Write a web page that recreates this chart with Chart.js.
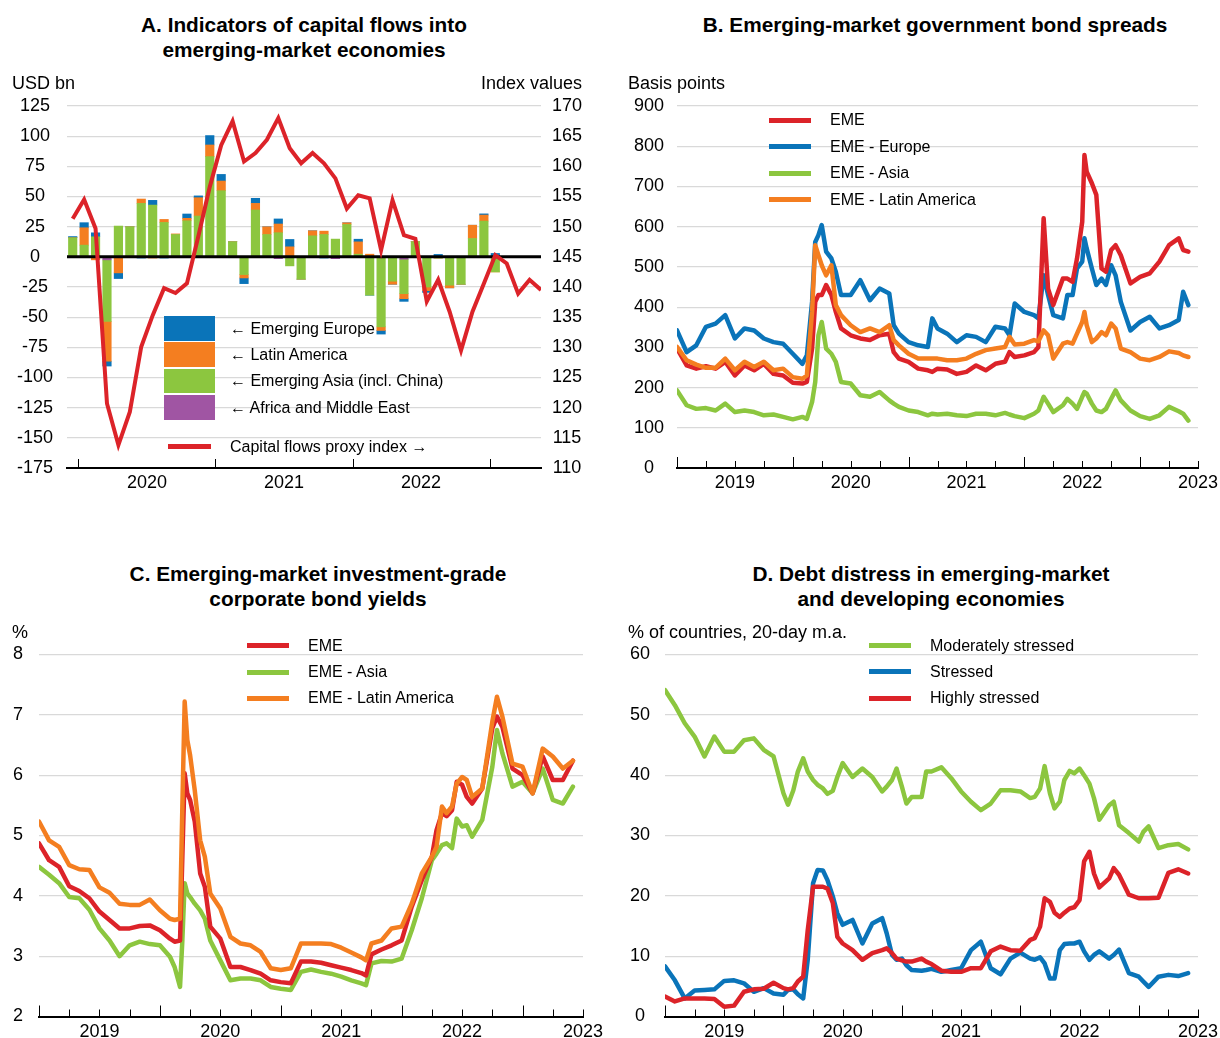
<!DOCTYPE html>
<html>
<head>
<meta charset="utf-8">
<script src="https://cdn.jsdelivr.net/npm/chart.js@4.4.1/dist/chart.umd.min.js"></script>
<style>
  body { margin: 0; background: #fff; }
  #page { position: relative; width: 1220px; height: 1038px; overflow: hidden; font-family: "Liberation Sans", Arial, sans-serif; color: #000; }
  canvas { position: absolute; }
  .title { position: absolute; font-weight: bold; font-size: 20.8px; line-height: 25px; text-align: center; }
  .unit { position: absolute; font-size: 18px; line-height: 20px; white-space: nowrap; }
  .leg { position: absolute; font-size: 16px; line-height: 20px; white-space: nowrap; }
  .swatch { position: absolute; }
</style>
</head>
<body>
<div id="page">
  <canvas id="chartA" width="600" height="408" style="left:0;top:90px"></canvas>
  <canvas id="chartB" width="610" height="408" style="left:610px;top:90px"></canvas>
  <canvas id="chartC" width="610" height="400" style="left:0;top:638px"></canvas>
  <canvas id="chartD" width="610" height="400" style="left:610px;top:638px"></canvas>

  <div class="title" style="left:4px;width:600px;top:12px">A. Indicators of capital flows into<br>emerging-market economies</div>
  <div class="title" style="left:635px;width:600px;top:12px">B. Emerging-market government bond spreads</div>
  <div class="title" style="left:18px;width:600px;top:561px">C. Emerging-market investment-grade<br>corporate bond yields</div>
  <div class="title" style="left:631px;width:600px;top:561px">D. Debt distress in emerging-market<br>and developing economies</div>

  <div class="unit" style="left:12px;top:73px">USD bn</div>
  <div class="unit" style="left:382px;width:200px;text-align:right;top:73px">Index values</div>
  <div class="unit" style="left:628px;top:73px">Basis points</div>
  <div class="unit" style="left:12px;top:622px">%</div>
  <div class="unit" style="left:628px;top:622px">% of countries, 20-day m.a.</div>

  <div id="legendA"></div>
  <div id="legendB"></div>
  <div id="legendC"></div>
  <div id="legendD"></div>
</div>

<script>
// Panel A: monthly capital flows (USD bn) and proxy index
const months = [
  '2019-12',
  '2020-01','2020-02','2020-03','2020-04','2020-05','2020-06','2020-07','2020-08','2020-09','2020-10','2020-11','2020-12',
  '2021-01','2021-02','2021-03','2021-04','2021-05','2021-06','2021-07','2021-08','2021-09','2021-10','2021-11','2021-12',
  '2022-01','2022-02','2022-03','2022-04','2022-05','2022-06','2022-07','2022-08','2022-09','2022-10','2022-11','2022-12',
  '2023-01','2023-02','2023-03','2023-04','2023-05'
];
const emergingEurope = [1, 4.2, 3.3, -4, -4.7, 0, -1, 3.9, -1, 0, 3.6, 1.5, 7.8, 5.5, 0, -4.7, 4.2, 0, 4.2, 6.1, 0, 0, -1, 0, 0, 2.2, 0, -3, 0, -2.2, 0, -1.5, 2, 0, 0, 0, 1, 2.8];
const latinAmerica = [0, 14.4, -2.5, -33, -13.3, 0, 3.6, -1, 2.5, 0.5, 2, 15.2, 9.7, 8, 0, -2.8, 5.5, 6.4, 7.2, 8.3, 0, 4.2, 2.8, 0, 1.4, 10.2, 2.2, -3, -2.5, -4.2, 0, -3, 0, -2.2, 0, 11, 5, 0];
const emergingAsia = [15.8, 9.7, 16.6, -51, 25.5, 24.9, 44.3, 42.9, 28.5, 18.5, 29.9, 33.8, 83, 54.8, 12.5, -14.7, 38.8, 18.5, 20, -7.5, -18.5, 17.4, 18.5, 14.7, 26.8, 2.2, -31.8, -58, -20.2, -28.5, 12.5, -25, -1, -23.5, -22.7, 15.2, 29.6, -12.5];
const africaMiddleEast = [0, 0, 0, -2.5, 0, 0, 0, 0, 0, -0.5, 0, 0, 0, -0.5, 0, 0, 0, 0, -1.5, 0, 0, 0, 0, -1.5, 0, 0, 0, 0, 0, -2, 0, 0, 0, 0, 0, 0, 0, 0];
const proxyIndex = [151.3, 154.5, 149.7, 120.7, 113.8, 119.3, 130.1, 135.3, 139.8, 139.0, 140.6, 148.4, 156.6, 163.5, 167.5, 160.8, 162.2, 164.4, 168.0, 163.0, 160.5, 162.2, 160.5, 158.0, 153.0, 155.2, 154.7, 146.1, 154.4, 148.6, 148.0, 137.6, 141.2, 135.9, 129.5, 135.9, 140.6, 145.3, 143.9, 138.9, 141.2, 139.5];
const flowYears = ['2020', '2021', '2022'];

// Panel B: government bond spreads (bp)
const spreadDates = [
  '2019-01-01','2019-02-01','2019-03-01','2019-04-01','2019-05-01','2019-06-01','2019-07-01','2019-08-01','2019-09-01','2019-10-01','2019-11-01','2019-12-01',
  '2020-01-01','2020-02-01','2020-02-15','2020-03-01','2020-03-11','2020-03-21','2020-04-01','2020-04-15','2020-05-01','2020-05-15',
  '2020-06-01','2020-07-01','2020-08-01','2020-09-01','2020-10-01','2020-11-01','2020-11-15','2020-12-01',
  '2021-01-01','2021-02-01','2021-03-01','2021-03-15','2021-04-01','2021-05-01','2021-06-01','2021-07-01','2021-08-01','2021-09-01','2021-10-01','2021-11-01','2021-11-15','2021-12-01',
  '2022-01-01','2022-02-01','2022-02-15','2022-03-01','2022-03-15','2022-04-01','2022-05-01','2022-05-15','2022-06-01','2022-06-15','2022-07-01','2022-07-08','2022-07-15','2022-08-01','2022-08-15','2022-09-01','2022-09-15','2022-10-01','2022-10-15','2022-11-01','2022-12-01',
  '2023-01-01','2023-02-01','2023-03-01','2023-04-01','2023-05-01','2023-05-15','2023-06-01'
];
const spreadEME = [297, 255, 247, 253, 247, 264, 230, 255, 243, 259, 234, 230,
  212, 210, 214, 297, 413, 430, 430, 455, 430, 388,
  347, 330, 322, 318, 330, 334, 288, 272,
  264, 247, 243, 239, 247, 245, 234, 239, 255, 243, 259, 264, 288, 276,
  280, 288, 301, 621, 446, 405, 471, 471, 463, 521, 612, 778, 737, 708, 679, 496, 488, 542, 554, 529, 459,
  475, 484, 513, 554, 571, 542, 538];
const spreadEurope = [342, 288, 305, 351, 359, 380, 322, 347, 342, 322, 313, 309,
  284, 259, 280, 413, 562, 579, 604, 538, 521, 488,
  430, 430, 467, 417, 446, 434, 355, 334,
  313, 305, 301, 372, 347, 334, 313, 330, 326, 313, 351, 347, 330, 409,
  388, 380, 372, 479, 430, 380, 372, 430, 430, 496, 513, 571, 546, 496, 455, 471, 455, 504, 479, 413, 342,
  363, 376, 347, 355, 368, 438, 405];
const spreadAsia = [193, 156, 147, 149, 143, 160, 139, 143, 139, 131, 133, 127,
  121, 127, 122, 164, 214, 330, 363, 297, 284, 264,
  214, 210, 181, 177, 189, 168, 160, 152,
  143, 139, 131, 135, 133, 135, 131, 129, 135, 135, 131, 137, 133, 129,
  124, 135, 143, 177, 160, 139, 156, 172, 160, 147, 177, 189, 185, 160, 143, 139, 147, 172, 193, 168, 143,
  129, 122, 131, 152, 141, 135, 118];
const spreadLatAm = [301, 268, 257, 249, 249, 272, 243, 264, 251, 264, 243, 247,
  226, 222, 230, 388, 554, 529, 504, 479, 504, 405,
  380, 355, 338, 347, 338, 355, 318, 305,
  284, 272, 272, 272, 272, 268, 268, 272, 284, 293, 297, 301, 326, 307,
  309, 318, 315, 342, 330, 272, 309, 313, 309, 334, 363, 388, 355, 313, 322, 338, 330, 359, 347, 297, 288,
  272, 268, 276, 290, 286, 280, 276];
const spreadYears = ['2019', '2020', '2021', '2022', '2023'];

// Panel C: investment-grade corporate bond yields (%)
const yieldDates = [
  '2019-01-01','2019-02-01','2019-03-01','2019-04-01','2019-05-01','2019-06-01','2019-07-01','2019-08-01','2019-09-01','2019-10-01','2019-11-01','2019-12-01',
  '2020-01-01','2020-02-01',
  '2020-02-15','2020-03-01','2020-03-08','2020-03-15','2020-03-23','2020-04-01','2020-04-15','2020-05-01','2020-05-15',
  '2020-06-01','2020-07-01','2020-08-01','2020-09-01','2020-10-01','2020-11-01','2020-12-01','2021-01-01','2021-02-01','2021-03-01','2021-04-01','2021-05-01','2021-06-01','2021-07-01','2021-08-01','2021-09-01',
  '2021-09-15',
  '2021-10-01','2021-11-01','2021-12-01','2022-01-01','2022-02-01','2022-03-01','2022-04-01',
  '2022-04-15','2022-05-01','2022-05-15','2022-06-01','2022-06-15','2022-07-01','2022-07-15','2022-08-01','2022-09-01',
  '2022-10-01','2022-10-15',
  '2022-11-01','2022-12-01','2023-01-01','2023-02-01','2023-03-01','2023-04-01','2023-05-01','2023-06-01'
];
const yieldEME = [4.87, 4.59, 4.48, 4.16, 4.08, 3.96, 3.74, 3.60, 3.46, 3.46, 3.50, 3.51, 3.43, 3.29,
  3.24, 3.26, 4.65, 6.03, 5.70, 5.59, 5.23, 4.37, 4.15,
  3.49, 3.29, 2.82, 2.82, 2.77, 2.71, 2.60, 2.57, 2.55, 2.91, 2.91, 2.89, 2.85, 2.81, 2.77, 2.72,
  2.68,
  3.03, 3.11, 3.18, 3.26, 3.82, 4.26, 4.65,
  5.09, 5.37, 5.32, 5.42, 5.89, 5.84, 5.64, 5.53, 5.78,
  6.78, 6.97,
  6.80, 6.11, 6.00, 5.70, 6.31, 5.92, 5.92, 6.24];
const yieldAsia = [4.48, 4.35, 4.21, 3.98, 3.96, 3.77, 3.46, 3.26, 3.00, 3.18, 3.24, 3.20, 3.18, 2.99,
  2.82, 2.49, 3.26, 4.21, 4.04, 3.98, 3.87, 3.76, 3.62,
  3.26, 2.93, 2.60, 2.63, 2.63, 2.60, 2.49, 2.46, 2.44, 2.74, 2.78, 2.74, 2.71, 2.66, 2.60, 2.55,
  2.52,
  2.88, 2.92, 2.91, 2.96, 3.43, 3.96, 4.59,
  4.70, 4.84, 4.87, 4.79, 5.28, 5.15, 5.17, 4.98, 5.26,
  6.14, 6.75,
  6.36, 5.81, 5.89, 5.70, 6.11, 5.59, 5.53, 5.81];
const yieldLatAm = [5.23, 4.92, 4.81, 4.51, 4.44, 4.43, 4.14, 4.05, 3.87, 3.85, 3.85, 3.94, 3.76, 3.62,
  3.60, 3.62, 5.48, 7.22, 6.58, 6.33, 5.75, 4.92, 4.65,
  4.04, 3.79, 3.32, 3.21, 3.18, 3.07, 2.80, 2.77, 2.80, 3.21, 3.21, 3.21, 3.20, 3.14, 3.06, 2.98,
  2.93,
  3.21, 3.26, 3.46, 3.49, 3.87, 4.37, 4.65,
  4.81, 5.48, 5.37, 5.48, 5.86, 5.97, 5.92, 5.64, 5.78,
  6.89, 7.30,
  6.97, 6.19, 6.14, 5.70, 6.44, 6.31, 6.11, 6.24];

// Panel D: debt distress (% of countries, 20-day m.a.)
const distressDates = [
  '2019-01-01','2019-02-01','2019-03-01','2019-04-01','2019-05-01','2019-06-01','2019-07-01','2019-08-01','2019-09-01','2019-10-01','2019-11-01','2019-12-01','2020-01-01',
  '2020-01-15','2020-02-01','2020-02-15','2020-03-01','2020-03-15','2020-04-01','2020-04-15','2020-05-01','2020-05-15','2020-06-01','2020-06-15','2020-07-01',
  '2020-08-01','2020-09-01','2020-10-01','2020-11-01','2020-11-15','2020-12-01','2020-12-15','2021-01-01','2021-01-15','2021-02-01','2021-03-01','2021-03-15',
  '2021-04-01','2021-05-01','2021-06-01','2021-07-01','2021-08-01','2021-09-01','2021-10-01','2021-11-01','2021-12-01','2022-01-01','2022-02-01',
  '2022-02-15','2022-03-01','2022-03-15','2022-04-01','2022-04-15','2022-05-01','2022-05-15','2022-06-01','2022-06-15','2022-07-01','2022-07-15','2022-08-01','2022-08-15','2022-09-01',
  '2022-10-01','2022-10-15','2022-11-01','2022-12-01','2023-01-01','2023-01-15',
  '2023-02-01','2023-03-01','2023-04-01','2023-05-01','2023-06-01'
];
const moderatelyStressed = [54.1, 51.6, 48.6, 46.4, 43.1, 46.4, 43.9, 43.9, 45.8, 46.1, 44.2, 43.1, 37.0,
  35.1, 37.5, 40.6, 42.8, 40.6, 39.2, 38.4, 37.8, 36.9, 37.4, 39.7, 42.0,
  39.7, 41.1, 39.7, 37.3, 38.1, 39.2, 41.1, 38.1, 35.3, 36.4, 36.4, 40.6,
  40.6, 41.3, 39.5, 37.3, 35.6, 34.2, 35.3, 37.5, 37.5, 37.3, 36.2,
  36.4, 37.8, 41.5, 37.0, 34.5, 35.6, 39.2, 40.7, 40.3, 41.1, 40.0, 38.6, 36.2, 32.6,
  35.0, 35.6, 31.7, 30.4, 29.0, 30.6,
  31.5, 27.9, 28.4, 28.6, 27.7];
const stressed = [8.3, 6.0, 3.0, 4.3, 4.4, 4.5, 5.9, 6.0, 5.5, 4.1, 4.7, 3.8, 3.6,
  4.4, 4.5, 3.7, 3.0, 9.4, 22.1, 24.3, 24.2, 22.6, 19.9, 17.1, 15.2,
  16.0, 12.1, 15.4, 16.3, 13.8, 10.2, 9.4, 9.6, 8.5, 7.7, 7.6, 7.7,
  7.9, 7.4, 7.7, 8.0, 11.0, 12.4, 8.0, 7.0, 9.6, 10.6, 9.6,
  9.4, 9.8, 8.8, 6.3, 6.3, 11.0, 12.0, 12.1, 12.1, 12.4, 10.8, 9.4, 10.2, 10.8,
  9.6, 10.2, 11.1, 7.2, 6.6, 5.8,
  4.9, 6.6, 6.9, 6.7, 7.2];
const highlyStressed = [3.3, 2.5, 3.0, 3.0, 3.0, 2.9, 1.6, 1.8, 4.1, 4.5, 4.6, 5.6, 4.7,
  4.5, 4.7, 5.8, 6.6, 14.3, 21.5, 21.5, 21.5, 21.2, 18.8, 13.2, 12.1,
  11.0, 9.4, 10.5, 11.0, 11.3, 10.5, 9.6, 9.3, 9.1, 9.1, 9.6, 9.1,
  8.7, 7.6, 7.4, 7.4, 8.0, 8.0, 10.8, 11.6, 11.0, 10.9, 12.7,
  13.0, 14.9, 19.6, 19.0, 17.2, 16.5, 17.2, 17.9, 18.1, 19.3, 25.7, 27.3, 23.7, 21.4,
  22.9, 24.6, 23.5, 20.2, 19.6, 19.6,
  19.6, 19.7, 23.8, 24.4, 23.7];

const RED = '#dc2329', BLUE = '#0a74b9', GREEN = '#8cc63f', ORANGE = '#f47e20', PURPLE = '#a055a3';
const GRID = '#d9d9d9';

Chart.defaults.font.family = '"Liberation Sans", Arial, sans-serif';
Chart.defaults.font.size = 18;
Chart.defaults.color = '#000';

const monthMid = s => { const [y, m] = s.split('-').map(Number); return y + (m - 0.5) / 12; };
const dayPos = s => { const [y, m, d] = s.split('-').map(Number); return y + (m - 1) / 12 + (d - 1) / 365; };
const pairs = (xs, ys, f) => ys.map((v, i) => ({ x: f(xs[i]), y: v }));

// small tick marks pointing up from the time axis
const tickMarks = {
  id: 'tickMarks',
  beforeDatasetsDraw(chart, args, opts) {
    const xs = chart.scales.x, bottom = chart.chartArea.bottom, ctx = chart.ctx;
    const step = 1 / opts.perYear;
    ctx.save();
    ctx.strokeStyle = '#000';
    ctx.lineWidth = 1;
    for (let v = Math.ceil(xs.min / step - 1e-6) * step; v <= xs.max + 1e-6; v += step) {
      const major = Math.abs(v - Math.round(v)) < 1e-6;
      const x = Math.round(xs.getPixelForValue(v)) + 0.5;
      ctx.beginPath();
      ctx.moveTo(x, bottom);
      ctx.lineTo(x, bottom - (major ? opts.major : opts.minor));
      ctx.stroke();
    }
    ctx.restore();
  }
};

// black zero line above the bars but under the index line
const zeroLine = {
  id: 'zeroLine',
  beforeDatasetDraw(chart, args) {
    if (args.meta.type !== 'line') return;
    const y = chart.scales.y.getPixelForValue(0), a = chart.chartArea, ctx = chart.ctx;
    ctx.save();
    ctx.strokeStyle = '#000';
    ctx.lineWidth = 3;
    ctx.beginPath();
    ctx.moveTo(a.left, y);
    ctx.lineTo(a.right, y);
    ctx.stroke();
    ctx.restore();
  }
};

function yAxis(min, max, step, width, pad, extra) {
  return Object.assign({
    min: min, max: max,
    ticks: { stepSize: step, padding: pad, crossAlign: 'center' },
    grid: { color: GRID, lineWidth: 1.2, drawTicks: false },
    border: { display: false },
    afterFit: s => { s.width = width; s.paddingTop = 0; s.paddingBottom = 0; }
  }, extra || {});
}

function xYears(min, max, labels, height) {
  return {
    type: 'linear', min: min, max: max, offset: false,
    grid: { display: false },
    border: { display: true, color: '#000', width: 2 },
    ticks: { padding: -3.5, autoSkip: false, maxRotation: 0, callback: v => String(Math.floor(v)) },
    afterBuildTicks: s => { s.ticks = labels.map(l => ({ value: Number(l) + 0.5 })); },
    afterFit: s => { s.height = height; s.paddingLeft = 0; s.paddingRight = 0; }
  };
}

function baseOptions(top, right, ticks, scales) {
  return {
    responsive: false,
    animation: false,
    layout: { padding: { top: top, right: right, bottom: 0, left: 0 } },
    plugins: { legend: { display: false }, tooltip: { enabled: false }, tickMarks: ticks },
    scales: scales
  };
}

function lineSets(dates, list) {
  return list.map(s => ({
    label: s.label,
    data: pairs(dates, s.values, dayPos),
    borderColor: s.color,
    borderWidth: 4.5,
    pointRadius: 0,
    tension: 0,
    fill: false,
    borderJoinStyle: 'round',
    borderCapStyle: 'round',
    order: s.order
  }));
}

// ---- Panel A
const barSet = (label, values, color) => ({
  type: 'bar', label: label, data: pairs(months, values, monthMid),
  backgroundColor: color, yAxisID: 'y', stack: 'flows', order: 1, barThickness: 8.5
});
const optsA = baseOptions(16, 0, { perYear: 1, major: 9, minor: 9 }, {
  x: Object.assign(xYears(monthMid(months[0]) - 1 / 24, monthMid(months[months.length - 1]), flowYears, 30), { stacked: true }),
  y: yAxis(-175, 125, 25, 67, 14, { stacked: true }),
  y2: yAxis(110, 170, 5, 59, 3, { position: 'right', grid: { display: false } })
});
new Chart(document.getElementById('chartA'), {
  type: 'bar',
  data: {
    datasets: [
      barSet('Africa and Middle East', africaMiddleEast, PURPLE),
      barSet('Emerging Asia (incl. China)', emergingAsia, GREEN),
      barSet('Latin America', latinAmerica, ORANGE),
      barSet('Emerging Europe', emergingEurope, BLUE),
      {
        type: 'line', label: 'Capital flows proxy index', data: pairs(months, proxyIndex, monthMid),
        yAxisID: 'y2', borderColor: RED, borderWidth: 4, pointRadius: 0, tension: 0,
        borderJoinStyle: 'miter', order: 0
      }
    ]
  },
  options: optsA,
  plugins: [tickMarks, zeroLine]
});

// ---- Panel B
new Chart(document.getElementById('chartB'), {
  type: 'line',
  data: {
    datasets: lineSets(spreadDates, [
      { label: 'EME', values: spreadEME, color: RED, order: 1 },
      { label: 'EME - Europe', values: spreadEurope, color: BLUE, order: 3 },
      { label: 'EME - Asia', values: spreadAsia, color: GREEN, order: 2 },
      { label: 'EME - Latin America', values: spreadLatAm, color: ORANGE, order: 0 }
    ])
  },
  options: baseOptions(16, 22, { perYear: 4, major: 11, minor: 7 }, {
    x: xYears(2019, 2023.5, spreadYears, 30),
    y: yAxis(0, 900, 100, 67, 13)
  }),
  plugins: [tickMarks]
});

// ---- Panel C
new Chart(document.getElementById('chartC'), {
  type: 'line',
  data: {
    datasets: lineSets(yieldDates, [
      { label: 'EME', values: yieldEME, color: RED, order: 1 },
      { label: 'EME - Asia', values: yieldAsia, color: GREEN, order: 2 },
      { label: 'EME - Latin America', values: yieldLatAm, color: ORANGE, order: 0 }
    ])
  },
  options: baseOptions(16.5, 27, { perYear: 4, major: 11, minor: 7 }, {
    x: xYears(2019, 2023.5, spreadYears, 21.5),
    y: yAxis(2, 8, 1, 39, 16)
  }),
  plugins: [tickMarks]
});

// ---- Panel D
new Chart(document.getElementById('chartD'), {
  type: 'line',
  data: {
    datasets: lineSets(distressDates, [
      { label: 'Moderately stressed', values: moderatelyStressed, color: GREEN, order: 2 },
      { label: 'Stressed', values: stressed, color: BLUE, order: 1 },
      { label: 'Highly stressed', values: highlyStressed, color: RED, order: 0 }
    ])
  },
  options: baseOptions(16.5, 22, { perYear: 4, major: 11, minor: 7 }, {
    x: xYears(2019, 2023.5, spreadYears, 21.5),
    y: yAxis(0, 60, 10, 55, 15)
  }),
  plugins: [tickMarks]
});

// ---- HTML legends
function addText(parent, text, left, centerY) {
  const d = document.createElement('div');
  d.className = 'leg';
  d.style.left = left + 'px';
  d.style.top = (centerY - 10) + 'px';
  d.textContent = text;
  parent.appendChild(d);
}
function addSwatch(parent, color, left, top, w, h) {
  const s = document.createElement('div');
  s.className = 'swatch';
  Object.assign(s.style, { left: left + 'px', top: top + 'px', width: w + 'px', height: h + 'px', background: color });
  parent.appendChild(s);
}
function lineLegend(id, items, x, textX, y0, gap) {
  const el = document.getElementById(id);
  items.forEach((it, i) => {
    const cy = y0 + i * gap;
    addSwatch(el, it[1], x, cy - 2.5, 42, 5);
    addText(el, it[0], textX, cy);
  });
}

const legA = document.getElementById('legendA');
[['← Emerging Europe', BLUE], ['← Latin America', ORANGE], ['← Emerging Asia (incl. China)', GREEN], ['← Africa and Middle East', PURPLE]]
  .forEach((it, i) => {
    const top = 316 + i * 26.4;
    addSwatch(legA, it[1], 164, top, 51, 24.5);
    addText(legA, it[0], 230, top + 12.5);
  });
addSwatch(legA, RED, 168, 444, 43, 5);
addText(legA, 'Capital flows proxy index →', 230, 446.5);

lineLegend('legendB', [['EME', RED], ['EME - Europe', BLUE], ['EME - Asia', GREEN], ['EME - Latin America', ORANGE]], 769, 830, 120, 26.5);
lineLegend('legendC', [['EME', RED], ['EME - Asia', GREEN], ['EME - Latin America', ORANGE]], 247, 308, 645.7, 26.3);
lineLegend('legendD', [['Moderately stressed', GREEN], ['Stressed', BLUE], ['Highly stressed', RED]], 869, 930, 645.5, 26.4);
</script>
</body>
</html>
